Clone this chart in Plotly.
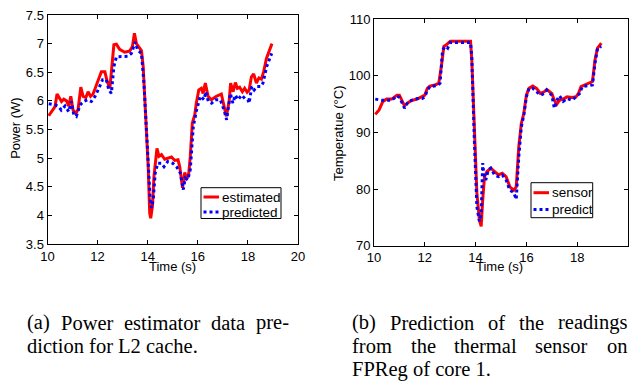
import plotly.graph_objects as go

# ---------------- data: (a) power ----------------
est_t = [10.05, 10.30, 10.38, 10.56, 10.65, 10.76, 10.85, 10.93, 11.02, 11.13, 11.22, 11.33, 11.42,
         11.53, 11.62, 11.72, 11.82, 11.93, 12.05, 12.15, 12.29, 12.38, 12.49, 12.55, 12.65, 12.75,
         12.88, 13.08, 13.28, 13.39, 13.47, 13.55, 13.64, 13.75, 13.82, 13.88, 13.95, 14.02, 14.08,
         14.12, 14.19, 14.25, 14.32, 14.37, 14.45, 14.55, 14.68, 14.81, 14.95, 15.08, 15.21, 15.28,
         15.39, 15.48, 15.55, 15.64, 15.70, 15.78, 15.88, 15.94, 16.04, 16.14, 16.21, 16.30, 16.41,
         16.54, 16.74, 16.94, 17.03, 17.14, 17.25, 17.31, 17.41, 17.50, 17.58, 17.67, 17.78, 17.87,
         17.97, 18.05, 18.14, 18.23, 18.34, 18.44, 18.54, 18.63, 18.74, 18.87, 18.96]
est_v = [5.74, 5.90, 6.12, 5.99, 6.03, 6.00, 5.91, 6.08, 5.84, 5.78, 5.85, 6.24, 6.08,
         6.06, 6.16, 6.08, 6.12, 6.25, 6.41, 6.51, 6.51, 6.34, 6.22, 6.48, 6.98, 6.99,
         6.90, 6.85, 6.87, 6.95, 7.18, 7.00, 6.95, 6.88, 6.60, 6.08, 5.49, 4.85, 4.04,
         3.95, 4.16, 4.68, 4.97, 5.17, 5.03, 5.06, 4.98, 5.00, 5.02, 4.96, 4.97, 4.85,
         4.48, 4.75, 4.62, 4.74, 5.03, 5.61, 5.76, 5.96, 6.19, 6.22, 6.13, 6.31, 6.08,
         6.02, 6.08, 6.12, 5.96, 5.73, 5.99, 6.31, 6.16, 6.32, 6.22, 6.24, 6.16, 6.22,
         6.15, 6.19, 6.42, 6.47, 6.31, 6.40, 6.38, 6.51, 6.74, 6.89, 7.00]

pred_t = [10.05, 10.30, 10.45, 10.55, 10.70, 10.85, 10.95, 11.05, 11.15, 11.30, 11.45, 11.60,
          11.75, 11.90, 12.05, 12.20, 12.35, 12.45, 12.55, 12.65, 12.75, 13.00, 13.20, 13.35,
          13.50, 13.60, 13.75, 13.85, 14.00, 14.10, 14.15, 14.22, 14.30, 14.40, 14.55, 14.65,
          14.80, 15.00, 15.15, 15.30, 15.42, 15.50, 15.60, 15.70, 15.82, 15.95, 16.10, 16.25,
          16.32, 16.42, 16.55, 16.70, 16.90, 17.05, 17.15, 17.30, 17.40, 17.50, 17.60, 17.75,
          17.90, 18.00, 18.05, 18.15, 18.25, 18.35, 18.50, 18.60, 18.75, 18.95]
pred_v = [5.95, 5.93, 5.90, 5.84, 5.91, 5.81, 5.99, 5.76, 5.73, 5.93, 5.99, 6.02,
          5.99, 6.08, 6.22, 6.37, 6.37, 6.19, 6.13, 6.60, 6.77, 6.78, 6.78, 6.83,
          7.03, 6.89, 6.83, 6.31, 5.15, 4.27, 4.13, 4.27, 4.74, 4.91, 4.91, 4.85,
          4.94, 4.91, 4.85, 4.74, 4.45, 4.65, 4.62, 4.80, 5.55, 5.84, 6.08, 6.02,
          6.16, 5.99, 5.96, 6.02, 6.02, 5.84, 5.67, 6.13, 5.96, 6.10, 6.02, 6.10,
          6.03, 6.02, 5.96, 6.25, 6.19, 6.25, 6.25, 6.31, 6.60, 6.83]

# ---------------- data: (b) temperature ----------------
sens_t = [10.05, 10.20, 10.35, 10.50, 10.70, 10.90, 11.00, 11.10, 11.20, 11.35, 11.50, 11.70,
          11.90, 12.00, 12.10, 12.20, 12.40, 12.55, 12.65, 12.75, 12.85, 13.00, 13.50, 13.80,
          13.85, 13.95, 14.05, 14.15, 14.22, 14.28, 14.35, 14.45, 14.60, 14.75, 14.90, 15.05,
          15.20, 15.35, 15.50, 15.60, 15.70, 15.80, 15.90, 16.00, 16.10, 16.25, 16.40, 16.55,
          16.70, 16.80, 17.00, 17.10, 17.20, 17.30, 17.45, 17.60, 17.80, 17.95, 18.05, 18.15,
          18.30, 18.50, 18.60, 18.70, 18.80, 18.95]
sens_v = [93.2, 94.0, 95.5, 95.9, 95.9, 96.6, 96.6, 95.7, 94.7, 95.3, 95.7, 95.9,
          96.3, 96.6, 97.8, 98.2, 98.4, 98.7, 101.6, 105.2, 105.5, 106.1, 106.1, 106.1,
          102.8, 89.9, 79.3, 74.5, 73.4, 78.1, 82.2, 83.1, 83.7, 83.1, 82.5, 82.8,
          82.2, 80.4, 79.8, 80.4, 87.5, 91.6, 93.4, 96.6, 97.8, 98.2, 97.8, 96.9,
          97.2, 97.6, 96.9, 95.7, 95.0, 95.7, 95.9, 96.3, 96.2, 96.3, 96.9, 98.1,
          98.4, 98.7, 99.0, 102.8, 104.9, 105.8]

pdt_t = [10.05, 10.30, 10.50, 10.70, 10.90, 11.00, 11.10, 11.20, 11.35, 11.50, 11.70, 11.90,
         12.00, 12.10, 12.20, 12.50, 12.60, 12.70, 12.80, 12.90, 13.00, 13.80, 13.85, 13.95,
         14.05, 14.15, 14.22, 14.28, 14.32, 14.40, 14.50, 14.60, 14.75, 14.90, 15.05, 15.20,
         15.35, 15.50, 15.60, 15.70, 15.80, 15.90, 16.00, 16.10, 16.25, 16.40, 16.55, 16.70,
         16.80, 17.00, 17.10, 17.20, 17.30, 17.45, 17.60, 17.80, 17.95, 18.10, 18.20, 18.40,
         18.60, 18.70, 18.80, 18.95]
pdt_v = [95.9, 95.7, 95.7, 95.7, 96.5, 96.2, 95.3, 94.3, 95.5, 95.7, 96.0, 96.0,
         96.3, 97.5, 98.1, 98.3, 98.7, 104.6, 105.2, 104.9, 105.9, 105.9, 103.4, 88.7,
         76.9, 74.3, 75.7, 84.6, 82.8, 81.6, 83.4, 83.7, 82.5, 82.2, 82.5, 81.6,
         79.8, 79.4, 78.2, 85.7, 91.0, 93.1, 96.3, 97.8, 97.8, 97.2, 96.6, 96.9,
         97.5, 96.6, 94.3, 95.7, 96.5, 95.5, 96.0, 95.7, 96.3, 96.9, 98.1, 98.2,
         98.4, 102.2, 104.9, 105.2]

# tick values / labels
x_ticks = [10, 12, 14, 16, 18, 20]
a_y_ticks = [3.5, 4, 4.5, 5, 5.5, 6, 6.5, 7, 7.5]
a_y_labels = ["3.5", "4", "4.5", "5", "5.5", "6", "6.5", "7", "7.5"]
b_y_ticks = [70, 80, 90, 100, 110]
a_names = ["estimated", "predicted"]
b_names = ["sensor", "predict"]

caption_a = ["(a) Power estimator data pre-", "diction for L2 cache."]
caption_b = ["(b) Prediction of the readings", "from the thermal sensor on", "FPReg of core 1."]

W, H = 630, 381
def px(x):
    return x / W
def py(y):
    return 1 - y / H

RED = "#ff0000"
BLUE = "#0000ff"
SANS = "Liberation Sans"
SERIF = "Liberation Serif"

fig = go.Figure()
fig.add_trace(go.Scatter(x=est_t, y=est_v, mode="lines", name=a_names[0],
                         line=dict(color=RED, width=3), xaxis="x", yaxis="y"))
fig.add_trace(go.Scatter(x=pred_t, y=pred_v, mode="lines", name=a_names[1],
                         line=dict(color=BLUE, width=3, dash="dot"), xaxis="x", yaxis="y"))
fig.add_trace(go.Scatter(x=sens_t, y=sens_v, mode="lines", name=b_names[0],
                         line=dict(color=RED, width=3), xaxis="x2", yaxis="y2"))
fig.add_trace(go.Scatter(x=pdt_t, y=pdt_v, mode="lines", name=b_names[1],
                         line=dict(color=BLUE, width=3, dash="dot"), xaxis="x2", yaxis="y2"))

axis_common = dict(showline=True, linecolor="black", linewidth=1, mirror="ticks",
                   ticks="inside", ticklen=4, tickcolor="black", tickwidth=1,
                   showgrid=False, zeroline=False, automargin=False,
                   tickfont=dict(family=SANS, size=13, color="black"))

fig.update_layout(
    template="none",
    width=W, height=H, autosize=False,
    margin=dict(l=0, r=0, t=0, b=0, pad=0),
    paper_bgcolor="white", plot_bgcolor="white",
    showlegend=False,
    font=dict(family=SANS, size=13, color="black"),
    xaxis=dict(domain=[px(47.5), px(298)], range=[10, 20], tickvals=x_ticks, anchor="y", **axis_common),
    yaxis=dict(domain=[py(244), py(15)], range=[3.5, 7.5], tickvals=a_y_ticks, ticktext=a_y_labels,
               anchor="x", **axis_common),
    xaxis2=dict(domain=[px(374), px(628)], range=[10, 20], tickvals=x_ticks, anchor="y2", **axis_common),
    yaxis2=dict(domain=[py(245.7), py(19.3)], range=[70, 110], tickvals=b_y_ticks, anchor="x2", **axis_common),
)

annos = []
shapes = []
def lab(text, x, y, angle=0, size=13, anchor="center"):
    annos.append(dict(text=text, x=px(x), y=py(y), xref="paper", yref="paper",
                      xanchor=anchor, yanchor="middle", showarrow=False, textangle=angle,
                      font=dict(family=SANS, size=size, color="black")))

lab("Time (s)", 172.7, 266)
lab("Time (s)", 499, 266)
lab("Power (W)", 15.3, 128.5, angle=-90)
lab("Temperatue (°C)", 338, 133, angle=-90)

# legends (MATLAB style boxes)
def legend_box(x0, y0, x1, y1, names, ys):
    shapes.append(dict(type="rect", xref="paper", yref="paper", x0=px(x0), x1=px(x1),
                       y0=py(y1), y1=py(y0), line=dict(color="black", width=1), fillcolor="white"))
    styles = [dict(color=RED, width=3), dict(color=BLUE, width=3, dash="dot")]
    for name, yy, st in zip(names, ys, styles):
        shapes.append(dict(type="line", xref="paper", yref="paper", x0=px(x0 + 2.5), x1=px(x0 + 18),
                           y0=py(yy), y1=py(yy), line=st))
        lab(name, x0 + 18.5, yy, anchor="left", size=13.5)

legend_box(201, 187.7, 281, 218.5, a_names, [197, 212])
legend_box(531, 182.7, 592.7, 217.7, b_names, [192.7, 209.5])

# justified captions (Times metrics, per 1000 em)
TW = {" ": 250, "(": 333, ")": 333, ".": 250, "-": 333, "1": 500, "2": 500, "E": 611, "F": 556,
      "L": 611, "P": 556, "R": 667, "a": 444, "b": 500, "c": 444, "d": 500, "e": 444, "f": 333,
      "g": 500, "h": 500, "i": 278, "l": 278, "m": 778, "n": 500, "o": 500, "p": 500, "r": 333,
      "s": 389, "t": 278, "w": 722, "u": 500, "v": 500}
CAP = 20.5

def text_w(s):
    return sum(TW.get(c, 500) for c in s) / 1000 * CAP

def caption(lines, x0, x1, ys):
    for i, (line, y) in enumerate(zip(lines, ys)):
        last = i == len(lines) - 1
        if last:
            items = [(line, x0)]
        else:
            ws = line.split(" ")
            total = sum(text_w(w) for w in ws)
            gap = (x1 - x0 - total) / (len(ws) - 1)
            items, x = [], x0
            for w in ws:
                items.append((w, x))
                x += text_w(w) + gap
        for text, x in items:
            annos.append(dict(text=text, x=px(x), y=py(y), xref="paper", yref="paper",
                              xanchor="left", yanchor="middle", showarrow=False,
                              font=dict(family=SERIF, size=CAP, color="black")))

caption(caption_a, 25, 287, [322.5, 346])
caption(caption_b, 350, 625, [322.5, 346, 369])

fig.update_layout(annotations=annos, shapes=shapes)
fig.write_html("out.html", config={"displayModeBar": False, "staticPlot": True},
               post_script="document.body.style.margin='0';document.body.style.overflow='hidden';")
